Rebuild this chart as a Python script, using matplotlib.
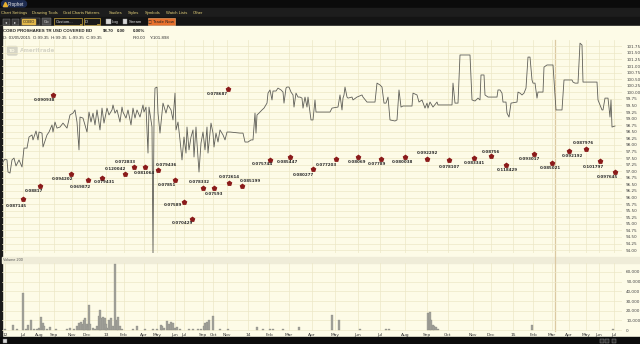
import numpy as np
import matplotlib
matplotlib.use("Agg")
import matplotlib.pyplot as plt
from matplotlib.patches import Rectangle, FancyBboxPatch
from matplotlib.ticker import FuncFormatter

# ---------------------------------------------------------------------------
# data (x = bar position on the chart's index axis)
# ---------------------------------------------------------------------------
price_x = [2, 5, 7, 8, 10, 12, 14, 16, 19, 22, 24, 27, 29, 32, 33, 36, 38, 39, 42, 43,
           47, 49, 52, 53, 55, 57, 60, 63, 67, 70, 73, 75, 77, 79, 80, 83, 85, 87, 89, 91,
           93, 95, 97, 100, 102, 104, 107, 109, 112, 113, 115, 117, 120, 122, 123, 126, 128, 131, 133, 135,
           137, 140, 143, 144, 146, 148, 149, 152, 153, 154, 155, 157, 158, 160, 162, 163, 166, 168, 171, 173,
           175, 176, 178, 180, 182, 184, 186, 187, 189, 191, 193, 194, 196, 197, 199, 201, 203, 205, 207, 208,
           211, 213, 214, 216, 218, 220, 223, 225, 227, 230, 240, 243, 245, 248, 251, 253, 255, 256, 257, 259,
           262, 264, 267, 268, 270, 272, 273, 276, 278, 281, 283, 284, 286, 287, 289, 291, 293, 294, 296, 298,
           300, 302, 303, 305, 307, 308, 311, 313, 315, 316, 330, 332, 338, 340, 342, 343, 344, 345, 347, 348,
           352, 353, 357, 362, 363, 367, 375, 377, 380, 382, 384, 386, 388, 390, 395, 397, 399, 401, 403, 412,
           413, 417, 419, 422, 425, 427, 428, 430, 433, 437, 438, 452, 453, 455, 458, 460, 470, 472, 475, 478,
           480, 481, 484, 485, 488, 497, 498, 500, 502, 503, 506, 507, 509, 511, 517, 518, 520, 522, 524, 526,
           528, 530, 532, 533, 535, 537, 538, 543, 544, 547, 553, 556, 562, 564, 572, 573, 575, 578, 580, 582,
           583, 597, 598, 602, 603, 605, 608, 610, 611, 612, 615]
price = [97.31, 97.46, 97.43, 96.97, 96.93, 97.43, 97.50, 97.20, 97.43, 97.16, 97.88, 97.88, 98.30, 98.38, 98.19, 98.53, 98.19, 98.49, 98.45, 97.92,
         98.38, 98.49, 98.76, 98.49, 98.87, 98.64, 98.68, 98.83, 98.64, 99.14, 99.21, 99.33, 98.87, 97.81, 99.06, 99.02, 98.76, 98.49, 99.25, 98.87,
         99.21, 98.76, 99.33, 98.57, 99.40, 98.83, 99.40, 99.14, 99.33, 99.52, 99.21, 99.33, 98.87, 99.44, 99.25, 99.02, 99.33, 98.76, 99.40, 99.02,
         99.33, 99.06, 99.52, 99.25, 99.44, 97.69, 99.44, 98.68, 93.80, 98.95, 100.16, 100.20, 99.21, 98.45, 99.21, 99.59, 99.21, 99.52, 99.33, 98.95,
         99.97, 98.57, 98.87, 98.19, 97.43, 98.30, 97.69, 98.68, 97.81, 98.30, 98.57, 97.54, 98.68, 98.07, 96.97, 98.07, 98.49, 97.81, 98.68, 97.69,
         98.83, 98.45, 97.92, 98.45, 98.11, 98.57, 98.38, 98.19, 98.49, 98.49, 98.45, 98.45, 98.11, 98.11, 98.19, 98.19, 99.21, 98.45, 99.14, 99.21,
         99.33, 99.40, 99.59, 99.97, 100.09, 99.71, 100.05, 100.05, 100.16, 100.09, 100.01, 99.59, 100.16, 100.20, 100.20, 100.01, 99.90, 99.44, 99.97, 99.82,
         99.82, 99.78, 99.40, 99.82, 99.44, 99.82, 98.95, 98.95, 99.71, 99.25, 99.25, 99.40, 99.44, 99.90, 99.33, 99.78, 99.90, 100.20, 99.82, 99.78,
         99.82, 99.71, 99.82, 99.90, 99.82, 99.63, 99.63, 100.35, 100.28, 100.20, 99.59, 99.59, 99.82, 98.95, 98.91, 98.95, 100.09, 99.44, 99.48, 99.48,
         99.97, 99.90, 99.63, 99.71, 99.40, 99.59, 99.40, 99.63, 99.44, 99.63, 99.52, 99.52, 100.35, 99.59, 99.59, 101.42, 101.42, 99.71, 99.67, 99.78,
         99.71, 100.66, 100.66, 99.90, 99.82, 99.82, 100.09, 100.09, 99.97, 99.63, 99.63, 99.21, 99.06, 99.59, 99.63, 100.01, 99.97, 99.90, 99.97, 100.16,
         101.34, 101.34, 100.47, 100.35, 100.35, 99.78, 100.01, 100.01, 100.96, 101.04, 101.04, 99.33, 99.33, 100.47, 100.47, 100.39, 100.35, 100.35, 101.87, 101.80,
         100.39, 100.39, 99.71, 99.33, 99.33, 99.78, 99.78, 99.06, 99.71, 98.68, 98.72]

vol_x = [5, 13, 17, 23, 26, 28, 31, 34, 37, 39, 41, 43, 44, 47, 50, 56, 67, 70, 74, 77,
         79, 81, 83, 84, 85, 87, 88, 89, 90, 93, 95, 97, 99, 100, 101, 103, 105, 106, 107, 109,
         111, 113, 115, 117, 118, 120, 122, 133, 137, 145, 153, 157, 161, 162, 164, 167, 169, 171, 173, 175,
         177, 180, 189, 193, 198, 201, 204, 205, 207, 209, 213, 220, 228, 257, 263, 270, 273, 283, 299, 332,
         339, 360, 386, 389, 428, 430, 431, 433, 434, 436, 438, 532, 613]
volume = [1000, 5000, 1500, 38000, 1500, 5000, 10000, 1500, 1500, 2000, 13000, 7000, 4000, 1000, 3000, 1000, 1000, 2000, 1500, 4000,
          7000, 8000, 6000, 10000, 12000, 6000, 4000, 26000, 6000, 2000, 1500, 4000, 15000, 21000, 12000, 13000, 12000, 6000, 2000, 10000,
          12000, 4000, 68000, 10000, 13000, 4000, 1000, 1000, 4000, 1000, 1500, 1000, 5000, 4000, 2000, 9000, 6000, 8000, 7000, 2500,
          3000, 1500, 1000, 1000, 1000, 1500, 4000, 7000, 8000, 10000, 14000, 1000, 1000, 3000, 1000, 1000, 1000, 1500, 3000, 15500,
          10000, 1000, 1500, 1500, 17500, 18500, 10000, 5000, 4000, 3000, 1500, 5000, 1000]

div_x = [23, 40, 53, 71, 88, 102, 125, 134, 145, 158, 175, 184, 192, 203, 214, 228, 229, 242,
         270, 290, 313, 336, 358, 381, 405, 427, 449, 474, 491, 506, 534, 552, 569, 586, 600, 615]
div_level = [95.94, 96.44, 99.90, 96.89, 96.67, 96.74, 96.89, 97.16, 97.16, 97.05, 96.67, 95.83, 95.18, 96.36, 96.36, 100.13, 96.55, 96.44,
             97.43, 97.54, 97.08, 97.46, 97.54, 97.46, 97.54, 97.46, 97.43, 97.50, 97.58, 97.24, 97.65, 97.31, 97.77, 97.84, 97.39, 96.97]
div_labels = ["0.087145", "0.08817", "0.090938", "0.094202", "0.069872", "0.079431", "0.120042", "0.072833",
              "0.081064", "0.079436", "0.07851", "0.07589", "0.070429", "0.078332", "0.07593", "0.078687",
              "0.072614", "0.085199", "0.075744", "0.085447", "0.080277", "0.077203", "0.08069", "0.07789",
              "0.080038", "0.092292", "0.078107", "0.083341", "0.08756", "0.118429", "0.093017", "0.085021",
              "0.092192", "0.087976", "0.101797", "0.097645"]
# label placement relative to each marker, in screen pixels (right, down)
div_offsets = [(-7, 7), (-6, 5), (-9, 5), (-9, 5), (-8, 7), (2, 4), (-10, -5), (-9, -5), (-1, 6),
               (8, -5), (-8, 5), (-11, 3), (-10, 4), (-4, -6), (0, 6), (-11, 5), (0, -6), (8, -5),
               (-8, 4), (-3, 5), (-10, 6), (-10, 6), (-1, 5), (-4, 5), (-3, 5), (0, -6), (0, 7),
               (0, 5), (0, -4), (1, 5), (-5, 5), (-2, 5), (3, 5), (-3, -6), (-7, 6), (-8, 5)]

month_pos = [5, 23, 39, 54, 72, 87, 106, 124, 144, 157, 175, 184, 203, 213, 227, 248, 269, 289, 312,
             335, 358, 380, 405, 427, 448, 473, 491, 513, 533, 552, 569, 586, 599, 614]
month_labels = ["12", "Jul", "Aug", "Sep", "Nov", "Dec", "13", "Feb", "Apr", "May", "Jun", "Jul", "Sep", "Oct",
                "Nov", "14", "Feb", "Mar", "Apr", "May", "Jun", "Jul", "Aug", "Sep", "Oct", "Nov", "Dec", "15",
                "Feb", "Mar", "Apr", "May", "Jun", "Jul"]

price_ticks = np.arange(94.0, 101.76, 0.25)
vol_ticks = [0, 10000, 20000, 30000, 40000, 50000, 60000]
cursor_x = 555

menu_items = ["Chart Settings", "Drawing Tools", "Grid Charts", "Patterns", "Studies",
              "Styles", "Symbols", "Watch Lists", "Other"]
menu_pos = [1, 32, 63, 85, 109, 128, 145, 166, 193]

# ---------------------------------------------------------------------------
# styling
# ---------------------------------------------------------------------------
W, H = 640, 344
CREAM = "#fdfbe7"
GRID = "#ece7c6"
DARK = "#121212"
MENU_TXT = "#e6d27a"
NARROW = ["Liberation Sans", "DejaVu Sans"]


def fax(x0, y0, x1, y1):
    return [x0 / W, 1 - y1 / H, (x1 - x0) / W, (y1 - y0) / H]


fig = plt.figure(figsize=(6.4, 3.44), dpi=100)
fig.patch.set_facecolor(DARK)

# chrome / background drawn in pixel coordinates
bg = fig.add_axes([0, 0, 1, 1], zorder=0)
bg.set_xlim(0, W)
bg.set_ylim(H, 0)
bg.axis("off")

bg.add_patch(Rectangle((0, 0), W, 8, color="#0b0b0b"))
bg.add_patch(FancyBboxPatch((1.5, 0.8), 25, 6.2, boxstyle="round,pad=0,rounding_size=3",
                            color="#1e2c50"))
bg.plot([4.5], [4.2], marker="^", ms=3, color="#e8b030")
bg.text(8, 4.3, "Prophet", fontsize=3.3, color="#e8e8e8", va="center", family=NARROW)

bg.add_patch(Rectangle((0, 8), W, 8.5, color="#1d1d1d"))
for lbl, px in zip(menu_items, menu_pos):
    bg.text(px, 12.6, lbl, fontsize=3.0, color=MENU_TXT, va="center", family=NARROW)

bg.add_patch(Rectangle((0, 16.5), W, 9.5, color="#141414"))
for bx, sym in [(2.5, "◂"), (12, "▸")]:
    bg.add_patch(Rectangle((bx, 18.5), 7, 6.5, fc="#3a3a3a", ec="#8a8a8a", lw=0.3))
    bg.text(bx + 3.5, 21.8, sym, fontsize=3, color="#dddddd", ha="center", va="center")
bg.add_patch(Rectangle((21, 18.3), 19, 7, fc="#262626", ec="#888888", lw=0.3))
bg.add_patch(Rectangle((22, 19.2), 13, 5.2, color="#e2b84a"))
bg.text(22.5, 21.9, "COBO", fontsize=3.0, color="#222222", va="center", family=NARROW)
bg.add_patch(Rectangle((42, 18.3), 8.5, 7, fc="#4a4a4a", ec="#8a8a8a", lw=0.3))
bg.text(46.2, 21.8, "Go", fontsize=3.0, color="#dddddd", ha="center", va="center", family=NARROW)
for x0, x1, t in [(54, 82, "Custom..."), (83.5, 99.5, "D")]:
    bg.add_patch(Rectangle((x0, 18.3), x1 - x0, 7, fc="#1a1a1a", ec="#c9a43a", lw=0.5))
    bg.text(x0 + 1.5, 21.8, t, fontsize=3.0, color="#e0e0e0", va="center", family=NARROW)
    bg.plot([x1 - 2.5, x1 - 1], [24.3, 24.3], color="#c9a43a", lw=0.6)
for cx, t in [(106, "Log"), (122.5, "Stream")]:
    bg.add_patch(Rectangle((cx, 19.3), 4.5, 4.5, fc="#d8d8d8", ec="#999999", lw=0.3))
    bg.text(cx + 6, 21.8, t, fontsize=3.0, color="#dddddd", va="center", family=NARROW)
bg.add_patch(Rectangle((147.5, 18.3), 27, 7, fc="#e8702c", ec="#ffb070", lw=0.4))
bg.text(161, 21.8, "\u25a1 Trade Now", fontsize=2.9, color="#222222", ha="center", va="center")

# chart canvas
bg.add_patch(Rectangle((0, 26), W, 311, color=CREAM))
bg.add_patch(Rectangle((0, 26), 1.5, 311, color="#1a1a1a"))
bg.add_patch(Rectangle((1.5, 256.5), W, 6.5, color="#efecd8"))
bg.text(3, 259.8, "Volume 200", fontsize=2.7, color="#555555", va="center", family=NARROW)
bg.plot([cursor_x, cursor_x], [40, 331], color="#dcc9a2", lw=0.9)

# header
HDR = dict(fontsize=3.2, fontweight="bold", color="#222222", va="center", family=NARROW)
bg.text(3, 31.3, "COBO PROSHARES TR USD COVERED BD", **HDR)
bg.text(103, 31.3, "98.70", **HDR)
bg.text(117, 31.3, "0.00", **HDR)
bg.text(133, 31.3, "0.00%", **HDR)
SUB = dict(fontsize=3.2, color="#333333", va="center", family=NARROW)
bg.text(3, 37.8, "D: 03/05/2015  O:99.35  H:99.35  L:99.35  C:99.35", **SUB)
bg.text(133, 37.8, "R:0.00", **SUB)
bg.text(150, 37.8, "Y:101.898", **SUB)

# faint broker logo
bg.add_patch(FancyBboxPatch((7.5, 46.5), 9.5, 8.5, boxstyle="round,pad=0,rounding_size=1.2",
                            color="#d6d5c6", zorder=1))
bg.text(12.2, 50.9, "TD", fontsize=3.2, fontweight="bold", color=CREAM, ha="center",
        va="center", zorder=2)
bg.text(20, 51, "Ameritrade", fontsize=4.0, fontweight="bold", color="#d6d5c6", va="center",
        zorder=2)

# bottom status bar
bg.add_patch(Rectangle((0, 337), W, 7, color="#0c0c0c"))
bg.add_patch(Rectangle((3, 338.5), 4, 4, fc="#d8d8d8", ec="#666666", lw=0.3))
for ix in [600, 605, 612]:
    bg.add_patch(Rectangle((ix, 338.5), 4, 4, fc="#2a2a2a", ec="#9a9a9a", lw=0.3))

# ---------------------------------------------------------------------------
# price panel
# ---------------------------------------------------------------------------
ax = fig.add_axes(fax(2, 40, 622, 253), zorder=2)
ax.patch.set_alpha(0)
ax.set_xlim(2, 622)
ax.set_ylim(93.89, 101.99)
ax.plot(price_x, price, color="#5e5e58", lw=0.6)
ax.plot(div_x, div_level, ls="none", marker="p", ms=3.0, color="#8a1a1a")
for x, lv, lbl, (dx, dy) in zip(div_x, div_level, div_labels, div_offsets):
    ax.annotate(lbl, (x, lv), xytext=(dx, -dy), textcoords="offset pixels",
                ha="center", va="center", fontsize=2.9, fontweight="bold", color="#2b2b2b")

ax.set_xticks(month_pos)
ax.set_yticks(price_ticks)
ax.yaxis.tick_right()
ax.yaxis.set_major_formatter(FuncFormatter(lambda v, p: f"{v:.2f}"))
ax.tick_params(axis="x", length=0, labelbottom=False)
ax.tick_params(axis="y", length=0, pad=3, labelsize=3.0, labelcolor="#444444")
ax.grid(True, color=GRID, lw=0.5)
ax.set_axisbelow(True)
for s in ax.spines.values():
    s.set_visible(False)

# ---------------------------------------------------------------------------
# volume panel
# ---------------------------------------------------------------------------
vax = fig.add_axes(fax(2, 263, 622, 331), zorder=2)
vax.patch.set_alpha(0)
vax.set_xlim(2, 622)
vax.set_ylim(-1034, 69310)
vax.bar(vol_x, volume, width=1.2, color="#a4a49b", edgecolor="#80807a", lw=0.2)
vax.set_xticks(month_pos)
vax.set_xticklabels(month_labels)
vax.set_yticks(vol_ticks)
vax.yaxis.tick_right()
vax.yaxis.set_major_formatter(FuncFormatter(lambda v, p: f"{v:,.0f}"))
vax.tick_params(axis="x", length=0, pad=1.2, labelsize=3.2, labelcolor="#333333")
vax.tick_params(axis="y", length=0, pad=3, labelsize=3.0, labelcolor="#444444")
vax.grid(True, color=GRID, lw=0.5)
vax.set_axisbelow(True)
for s in vax.spines.values():
    s.set_visible(False)

fig.savefig("out.png", dpi=100, facecolor=fig.get_facecolor())
